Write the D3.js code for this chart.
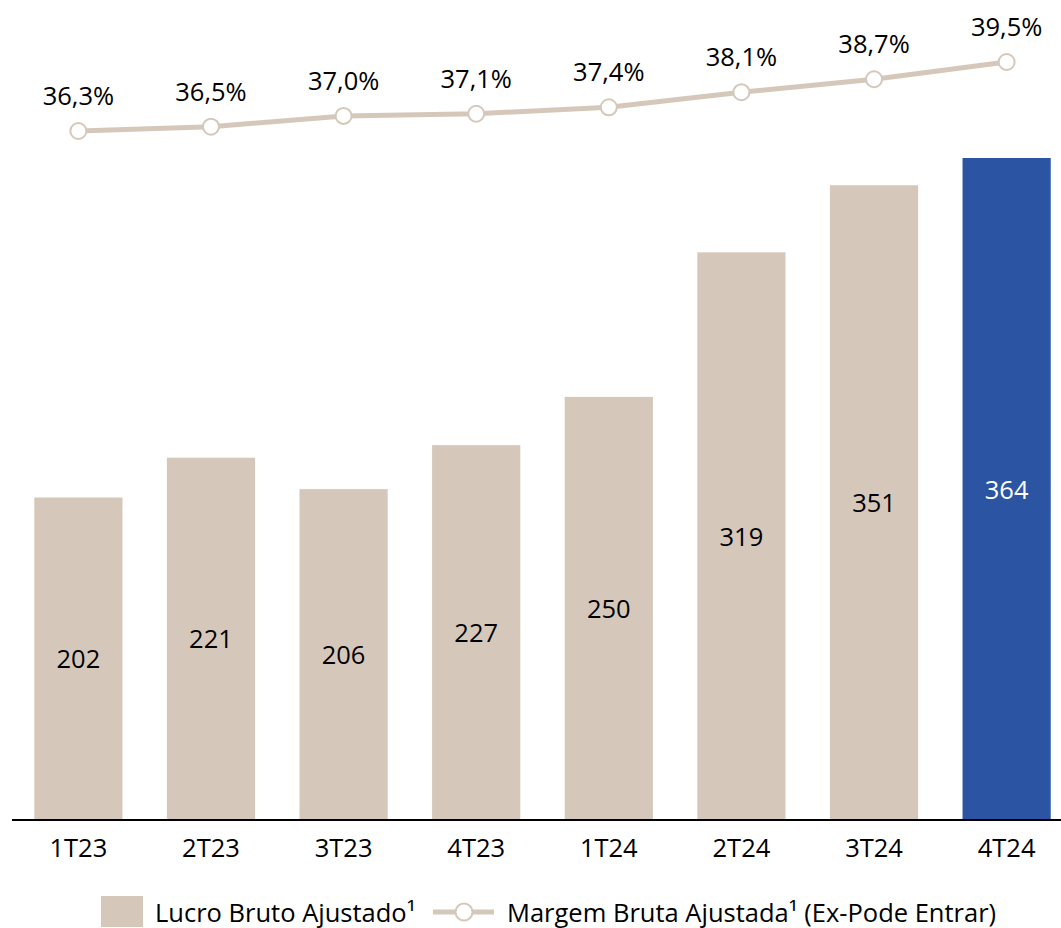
<!DOCTYPE html>
<html>
<head>
<meta charset="utf-8">
<script src="https://cdn.jsdelivr.net/npm/d3@7"></script>
<style>
  body { margin: 0; background: #fff; }
  text { font-family: "Open Sans", "Noto Sans", sans-serif; fill: #000; }
</style>
</head>
<body>
<div id="chart"></div>
<script>
// DATA
var quarters = ["1T23", "2T23", "3T23", "4T23", "1T24", "2T24", "3T24", "4T24"];
var lucroBruto = [202, 221, 206, 227, 250, 319, 351, 364];
var margemBruta = [36.3, 36.5, 37.0, 37.1, 37.4, 38.1, 38.7, 39.5];
var highlightQuarter = "4T24";

var W = 1061, H = 928;
var beige = "#d5c8bb", blue = "#2b54a3";
var fontSize = "25.5px";

var svg = d3.select("#chart").append("svg")
  .attr("width", W)
  .attr("height", H);

//SCALES
var xScale = d3.scaleBand()
  .domain(quarters)
  .range([12, 1073])
  .paddingInner(0.335)
  .paddingOuter(0.168);

var yBar = d3.scaleLinear()
  .domain([48.6, 364])
  .range([819, 158]);

var yLine = d3.scaleLinear()
  .domain([36.3, 39.5])
  .range([131, 62]);

var fmtPct = function(v) { return d3.format(".1f")(v).replace(".", ",") + "%"; };
var cx = function(i) { return xScale(quarters[i]) + xScale.bandwidth() / 2; };

//BARS
svg.selectAll("rect.bar")
  .data(quarters)
  .enter().append("rect")
  .attr("class", "bar")
  .attr("x", function(d) { return xScale(d); })
  .attr("y", function(d, i) { return yBar(lucroBruto[i]); })
  .attr("width", xScale.bandwidth())
  .attr("height", function(d, i) { return yBar.range()[0] - yBar(lucroBruto[i]); })
  .attr("fill", function(d) { return d === highlightQuarter ? blue : beige; });

//BAR LABELS
svg.selectAll("text.barlabel")
  .data(quarters)
  .enter().append("text")
  .attr("class", "barlabel")
  .attr("x", function(d, i) { return cx(i); })
  .attr("y", function(d, i) { return (yBar(lucroBruto[i]) + yBar.range()[0]) / 2 + 10; })
  .attr("text-anchor", "middle")
  .style("font-size", fontSize)
  .style("fill", function(d) { return d === highlightQuarter ? "#fff" : "#000"; })
  .text(function(d, i) { return lucroBruto[i]; });

//X AXIS
var xAxis = d3.axisBottom(xScale).tickSize(0).tickPadding(19);
var gx = svg.append("g")
  .attr("transform", "translate(0, 820)")
  .call(xAxis);
gx.select(".domain").remove();
gx.selectAll("text")
  .style("font-size", fontSize)
  .style("font-family", "'Open Sans', sans-serif")
  .attr("fill", "#000");
svg.append("line")
  .attr("x1", 12).attr("x2", W)
  .attr("y1", 820).attr("y2", 820)
  .attr("stroke", "#000")
  .attr("stroke-width", 2);

//LINE
var line = d3.line()
  .x(function(d, i) { return cx(i); })
  .y(function(d) { return yLine(d); });

svg.append("path")
  .datum(margemBruta)
  .attr("d", line)
  .attr("fill", "none")
  .attr("stroke", beige)
  .attr("stroke-width", 5);

svg.selectAll("circle.marker")
  .data(margemBruta)
  .enter().append("circle")
  .attr("class", "marker")
  .attr("cx", function(d, i) { return cx(i); })
  .attr("cy", function(d) { return yLine(d); })
  .attr("r", 8)
  .attr("fill", "#fff")
  .attr("stroke", beige)
  .attr("stroke-width", 2);

svg.selectAll("text.linelabel")
  .data(margemBruta)
  .enter().append("text")
  .attr("class", "linelabel")
  .attr("x", function(d, i) { return cx(i); })
  .attr("y", function(d) { return yLine(d) - 26; })
  .attr("text-anchor", "middle")
  .style("font-size", fontSize)
  .text(fmtPct);

//LEGEND
var legend = svg.append("g");
legend.append("rect")
  .attr("x", 101).attr("y", 896)
  .attr("width", 42).attr("height", 31)
  .attr("fill", beige);
legend.append("text")
  .attr("x", 155).attr("y", 922)
  .style("font-size", fontSize)
  .text("Lucro Bruto Ajustado\u00b9");
legend.append("line")
  .attr("x1", 433).attr("x2", 494)
  .attr("y1", 912).attr("y2", 912)
  .attr("stroke", beige)
  .attr("stroke-width", 5);
legend.append("circle")
  .attr("cx", 464).attr("cy", 912).attr("r", 8.5)
  .attr("fill", "#fff")
  .attr("stroke", beige)
  .attr("stroke-width", 2);
legend.append("text")
  .attr("x", 507).attr("y", 922)
  .style("font-size", fontSize)
  .text("Margem Bruta Ajustada\u00b9 (Ex-Pode Entrar)");
</script>
</body>
</html>
